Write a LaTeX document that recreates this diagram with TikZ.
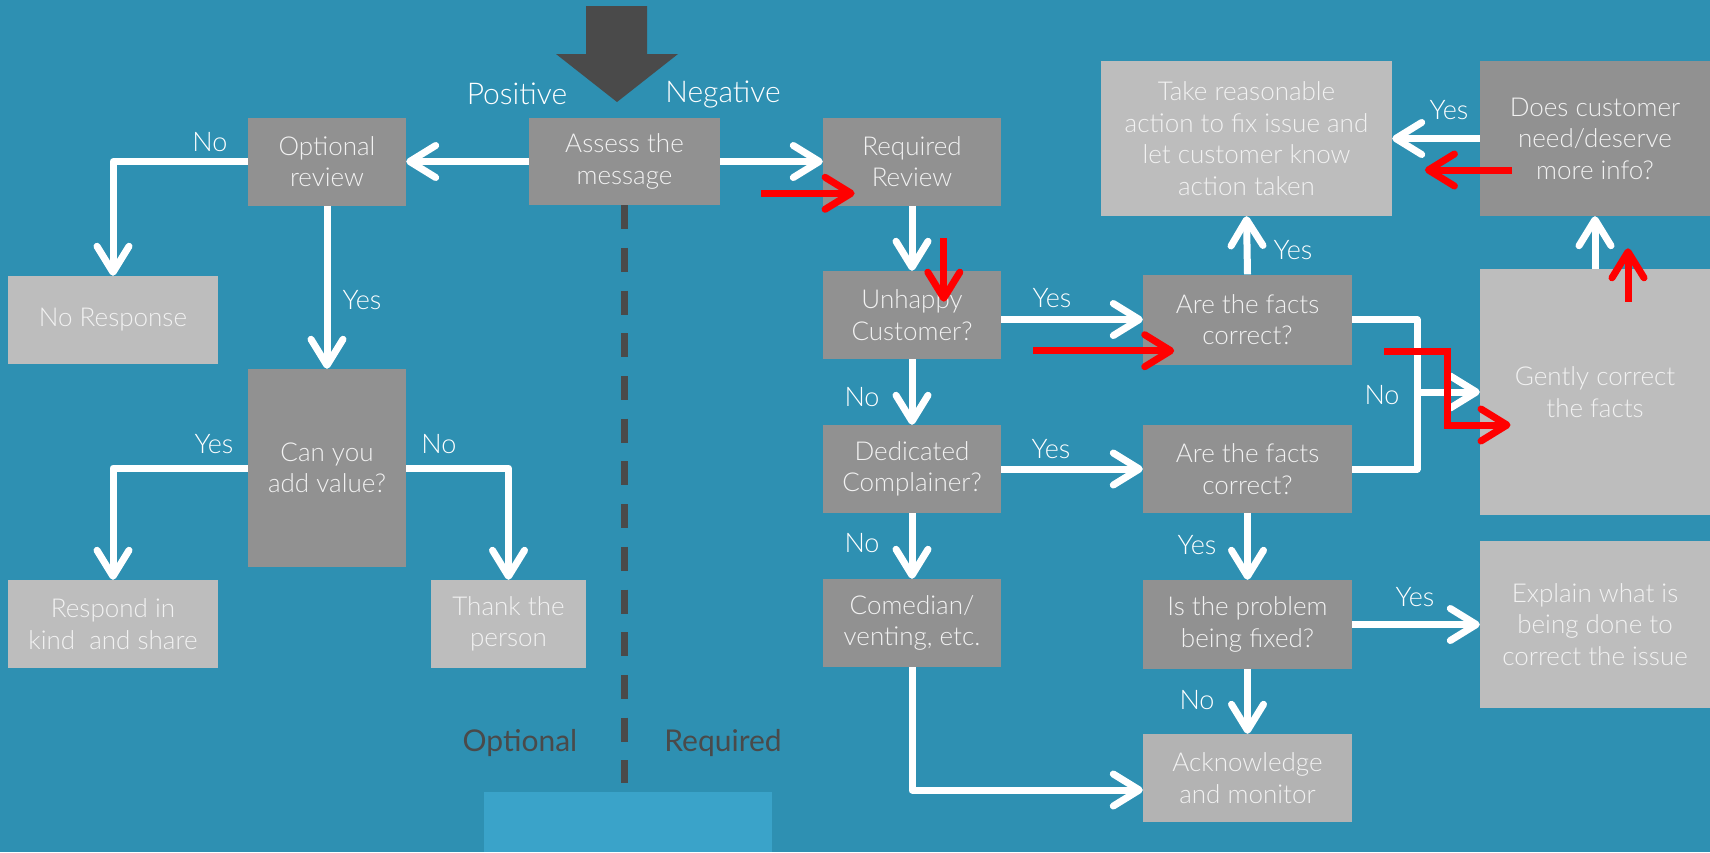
\documentclass[tikz,border=0pt]{standalone}
\usepackage{fontspec}
\setmainfont{Lato}[UprightFont=* Light]
\newfontfamily\regfont{Lato}
\usetikzlibrary{arrows.meta}
\definecolor{bgblue}{HTML}{2E90B2}
\definecolor{lightblue}{HTML}{3AA3C9}
\definecolor{darkbox}{HTML}{919191}
\definecolor{lightbox}{HTML}{BDBDBD}
\definecolor{ackbox}{HTML}{B3B3B3}
\definecolor{darkgray}{HTML}{4A4A4A}
\definecolor{boxtext}{HTML}{F2F2F2}
\definecolor{arrowred}{HTML}{FF0000}
\begin{document}
\begin{tikzpicture}[x=1pt,y=-1pt,
 box/.style={rectangle, inner sep=0pt, align=center, text=boxtext, font=\fontsize{26}{31.5}\selectfont},
 dbox/.style={box, fill=darkbox},
 lbox/.style={box, fill=lightbox},
 sz/.style 2 args={minimum width=#1pt, minimum height=#2pt},
 warrow/.style={draw=white, line width=7pt, line join=round, -{Straight Barb[length=26pt,width=32pt,round]}},
 wline/.style={draw=white, line width=7pt, line join=round},
 rarrow/.style={draw=arrowred, line width=7pt, line join=miter, -{Straight Barb[length=26pt,width=32pt,round]}},
 lab/.style={text=white, font=\fontsize{27}{32}\selectfont, inner sep=0pt},
 biglab/.style={text=white, font=\fontsize{30}{36}\selectfont, inner sep=0pt},
 sidelab/.style={text=darkgray, font=\regfont\fontsize{30}{36}\selectfont, inner sep=0pt},
]
\fill[bgblue] (0,0) rectangle (1710,852);
\useasboundingbox (0,0) rectangle (1710,852);
\fill[lightblue] (484,792) rectangle (772,852);

% big incoming arrow
\fill[darkgray] (586,6) -- (647,6) -- (647,54) -- (678,54) -- (617,102) -- (556,54) -- (586,54) -- cycle;

% nodes
\node[dbox, sz={191}{87}] (assess) at (624.5,161.5) {Assess the\\message};
\node[dbox, sz={158}{88}] (optrev) at (327,161.5) {Optional\\review};
\node[lbox, sz={210}{88}] (noresp) at (113,320) {No Response};
\node[dbox, sz={158}{198}] (canyou) at (327,468) {Can you\\add value?};
\node[lbox, sz={210}{88}] (respond) at (113,624) {Respond in\\kind \ and share};
\node[lbox, sz={155}{88}] (thank) at (508.5,624) {Thank the\\person};

\node[dbox, sz={178}{88}] (required) at (912,161.5) {Required\\Review};
\node[dbox, sz={178}{88}] (unhappy) at (912,315) {Unhappy\\Customer?};
\node[dbox, sz={178}{88}] (dedicated) at (912,469) {Dedicated\\Complainer?};
\node[dbox, sz={178}{88}] (comedian) at (912,623) {Comedian/\\venting, etc.};

\node[dbox, sz={209}{90}] (facts1) at (1247.5,319.5) {Are the facts\\correct?};
\node[dbox, sz={209}{88}] (facts2) at (1247.5,469) {Are the facts\\correct?};
\node[dbox, sz={209}{89}] (isprob) at (1247.5,624.5) {Is the problem\\being fixed?};
\node[box, fill=ackbox, sz={209}{88}] (ack) at (1247.5,778) {Acknowledge\\and monitor};
\node[lbox, sz={291}{155}] (take) at (1246.5,138.5) {Take reasonable\\action to fix issue and\\let customer know\\action taken};
\node[dbox, sz={230}{155}] (does) at (1595,138.5) {Does customer\\need/deserve\\more info?};
\node[lbox, sz={230}{246}] (gently) at (1595,392) {Gently correct\\the facts};
\node[lbox, sz={230}{167}] (explain) at (1595,624.5) {Explain what is\\being done to\\correct the issue};

% dashed divider
\coordinate (dashend) at (624.5,783);
\draw[darkgray, line width=6.5pt, dash pattern=on 24pt off 18.7pt] (assess.south) -- (dashend);

% labels
\node[biglab] (pos) at (517,94) {Positive};
\node[biglab] (neg) at (723,94) {Negative};
\node[sidelab] (optl) at (520,743) {Optional};
\node[sidelab] (reql) at (723,743) {Required};

\node[lab] (l1) at (210,142) {No};
\node[lab] (l2) at (362,300) {Yes};
\node[lab] (l3) at (214,444) {Yes};
\node[lab] (l4) at (439,444) {No};
\node[lab] (l5) at (1052,298) {Yes};
\node[lab] (l6) at (862,397) {No};
\node[lab] (l7) at (1051,449) {Yes};
\node[lab] (l8) at (862,543) {No};
\node[lab] (l9) at (1293,250) {Yes};
\node[lab] (l10) at (1449,110) {Yes};
\node[lab] (l11) at (1382,395) {No};
\node[lab] (l12) at (1197,545) {Yes};
\node[lab] (l13) at (1415,597) {Yes};
\node[lab] (l14) at (1197,700) {No};

% white connectors
\draw[warrow] (assess.west) -- (optrev.east);
\draw[warrow] (assess.east) -- (required.west);
\draw[warrow] (optrev.west) -| (noresp.north);
\draw[warrow] (optrev.south) -- (canyou.north);
\draw[warrow] (canyou.west) -| (respond.north);
\draw[warrow] (canyou.east) -| (thank.north);
\draw[warrow] (required.south) -- (unhappy.north);
\draw[warrow] (unhappy.east |- facts1.west) -- (facts1.west);
\draw[warrow] (unhappy.south) -- (dedicated.north);
\draw[warrow] (dedicated.east) -- (facts2.west);
\draw[warrow] (dedicated.south) -- (comedian.north);
\draw[warrow] (comedian.south) |- ([yshift=-12pt]ack.west);
\draw[warrow] (facts1.north) -- (take.south);
\draw[warrow] (does.west) -- (take.east);
\draw[warrow] (gently.north) -- (does.south);
\coordinate (nojoin) at (1417,392);
\draw[wline] (facts1.east) -| (nojoin) |- (facts2.east);
\draw[warrow] (nojoin) -- (gently.west);
\draw[warrow] (facts2.south) -- (isprob.north);
\draw[warrow] (isprob.east) -- (explain.west);
\draw[warrow] (isprob.south) -- (ack.north);

% red annotation arrows
\coordinate (r1a) at (761,193.3); \coordinate (r1b) at (854.6,193.3);
\coordinate (r2a) at (943.8,238.3); \coordinate (r2b) at (943.8,301.7);
\coordinate (r3a) at (1033.4,350.7); \coordinate (r3b) at (1174.2,350.7);
\coordinate (r4a) at (1384,351.7); \coordinate (r4b) at (1447.5,351.7);
\coordinate (r4c) at (1447.5,425); \coordinate (r4d) at (1510.5,425);
\coordinate (r5a) at (1628,301.7); \coordinate (r5b) at (1628,248.3);
\coordinate (r6a) at (1511.7,170); \coordinate (r6b) at (1424.9,170);
\draw[rarrow] (r1a) -- (r1b);
\draw[rarrow] (r2a) -- (r2b);
\draw[rarrow] (r3a) -- (r3b);
\draw[rarrow] (r4a) -- (r4b) -- (r4c) -- (r4d);
\draw[rarrow] (r5a) -- (r5b);
\draw[rarrow] (r6a) -- (r6b);
\end{tikzpicture}
\end{document}
